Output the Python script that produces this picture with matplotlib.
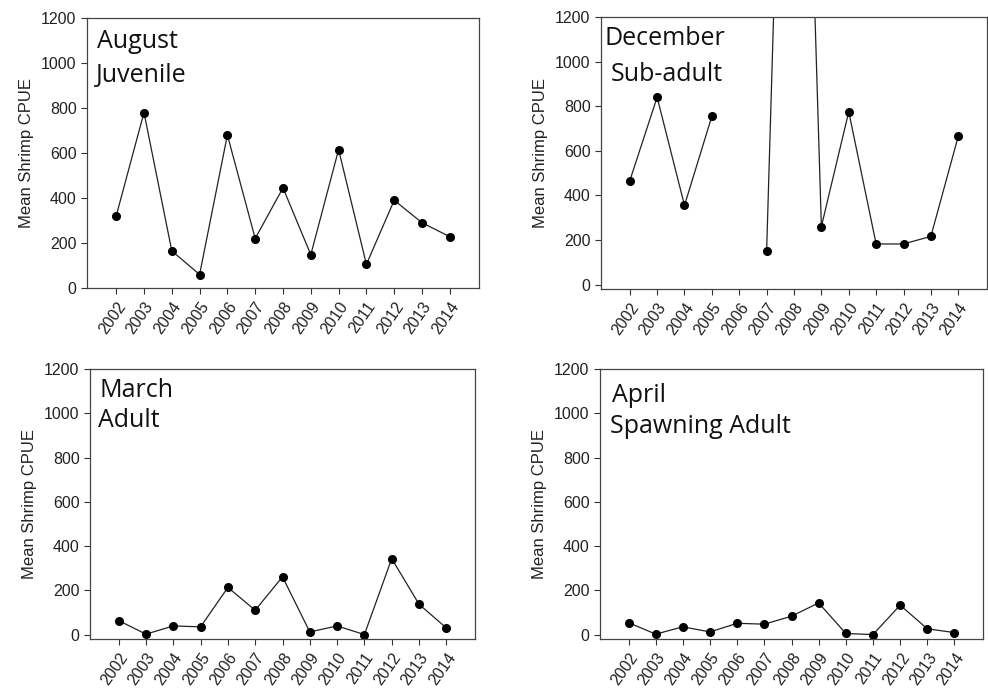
import numpy as np
import matplotlib
matplotlib.use("Agg")
import matplotlib.pyplot as plt

years = list(range(2002, 2015))
year_labels = [str(y) for y in years]

august = [320, 780, 165, 60, 680, 220, 445, 148, 615, 105, 390, 290, 228]
december = [465, 840, 355, 755, np.nan, 150, 4300, 260, 775, 182, 182, 216, 665]
march = [63, 2, 39, 35, 213, 110, 261, 12, 39, 0, 343, 137, 30]
april = [54, 2, 35, 12, 51, 47, 83, 143, 5, 0, 133, 26, 9]

plt.rcParams['font.family'] = ['Liberation Sans', 'DejaVu Sans']

W, H = 988, 689
fig = plt.figure(figsize=(W / 100, H / 100), dpi=100)


def add_ax(left, right, top, bottom):
    return fig.add_axes([left / W, 1 - bottom / H, (right - left) / W, (bottom - top) / H])


panels = [
    # (box, data, labels at (x, baseline y) in axes fraction, ylim bottom)
    ((87, 479, 18, 288), august, [("August", 0.026, 0.889), ("Juvenile", 0.022, 0.763)], 0),
    ((601, 987, 17, 289), december, [("December", 0.008, 0.897), ("Sub-adult", 0.024, 0.765)], -20),
    ((90, 475, 369, 639), march, [("March", 0.024, 0.896), ("Adult", 0.022, 0.785)], -20),
    ((600, 983, 369, 639), april, [("April", 0.032, 0.878), ("Spawning Adult", 0.027, 0.763)], -20),
]

ink = "#222222"
for box, vals, labels, ybot in panels:
    ax = add_ax(*box)
    ax.plot(years, vals, color=ink, lw=0.9, marker="o", ms=5.5,
            markerfacecolor="black", markeredgecolor="black")
    ax.set_ylim(ybot, 1200)
    ax.set_xlim(2000.95, 2015.05)
    ax.set_yticks(range(0, 1201, 200))
    ax.set_xticks(years)
    ax.set_xticklabels(year_labels, rotation=55, ha="right", rotation_mode="anchor")
    ax.tick_params(direction="out", length=4, width=0.8, labelsize=11.5,
                   colors="#333333", labelcolor="#222222")
    ax.tick_params(axis="x", pad=4)
    for s in ax.spines.values():
        s.set_color("#444444")
        s.set_linewidth(0.9)
    ax.set_ylabel("Mean Shrimp CPUE", fontsize=12, color="#222222", labelpad=5)
    for txt, x, y in labels:
        ax.text(x, y, txt, transform=ax.transAxes, fontsize=18,
                family=["Open Sans", "DejaVu Sans"], color="#111111",
                ha="left", va="baseline")

fig.savefig("out.png", dpi=100)
